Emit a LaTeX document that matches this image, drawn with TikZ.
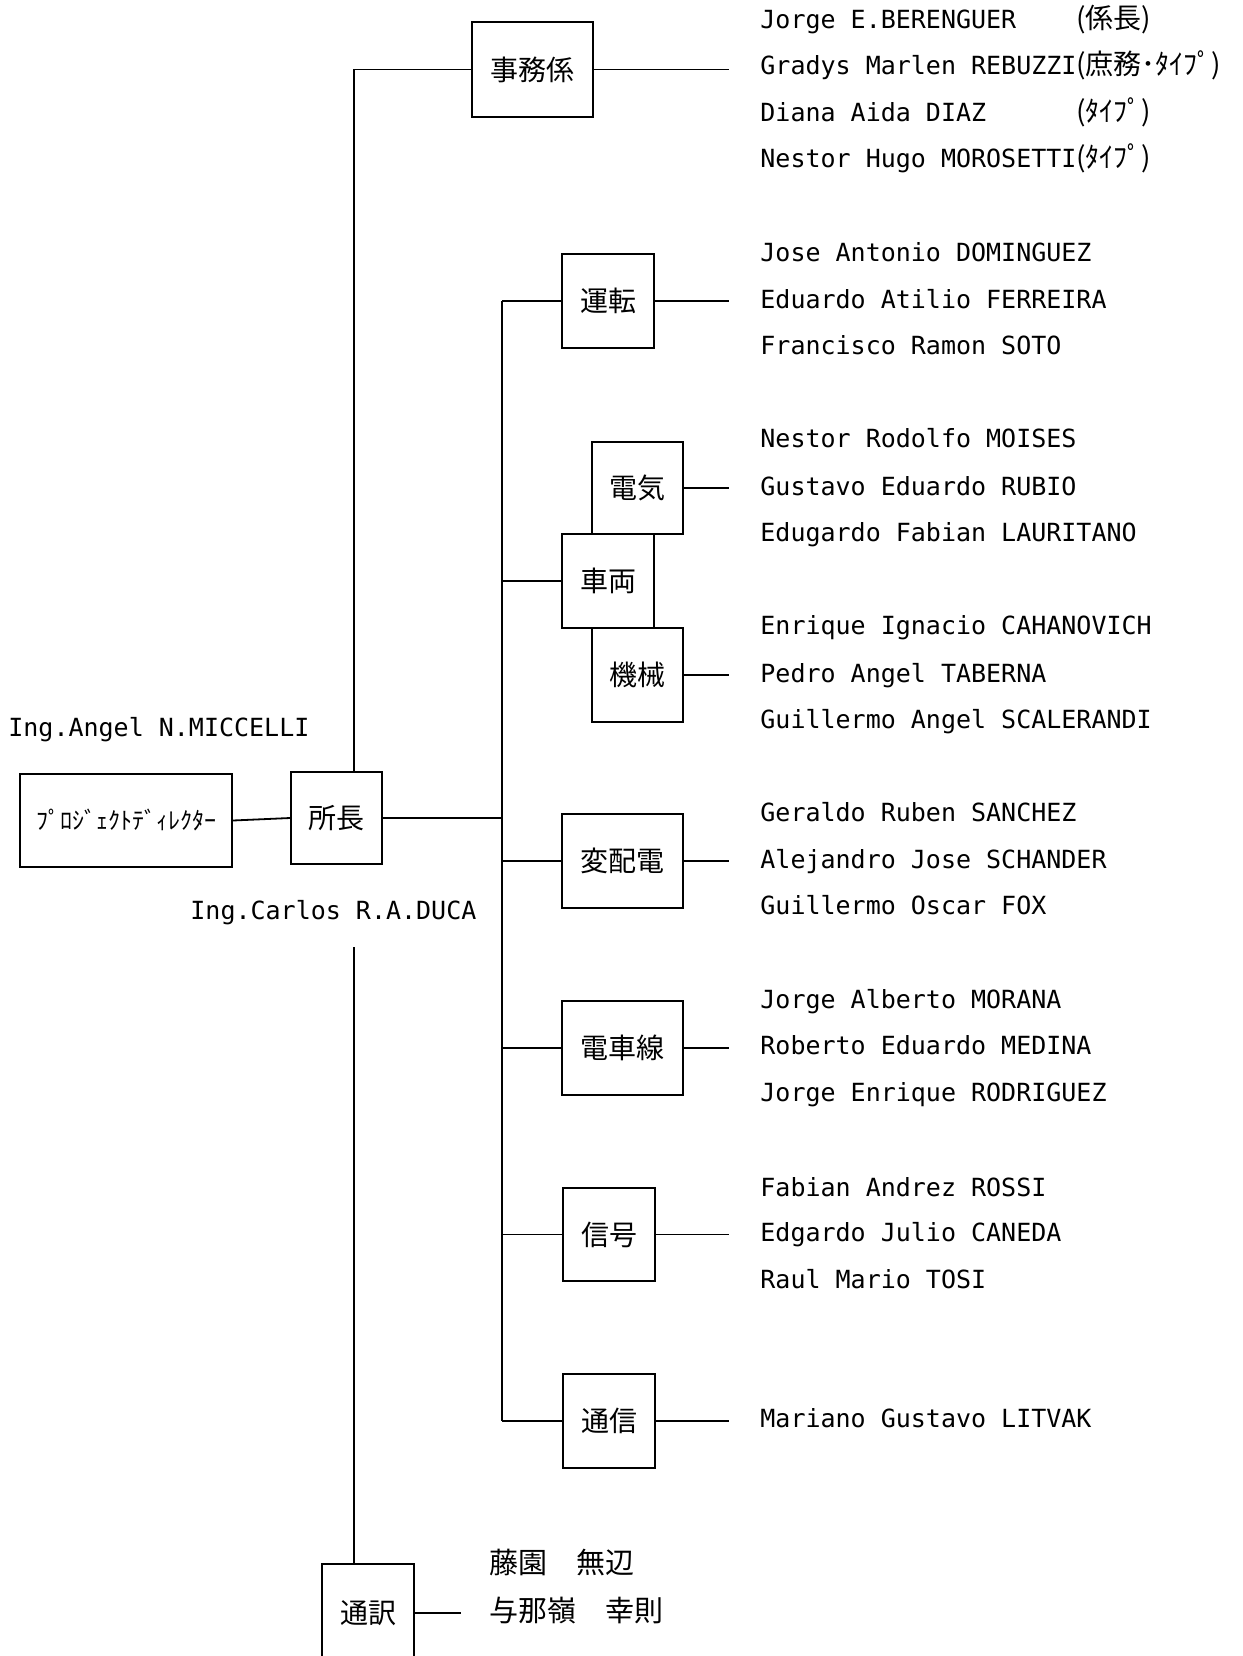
\documentclass[tikz,border=0pt]{standalone}
\usepackage{fontspec}
\newfontfamily\nmfont{DejaVu Sans Mono}
\newfontfamily\jpfont{Noto Sans CJK JP}
\usetikzlibrary{fit}
\newcommand\jpp[1]{{\jpfont\fontsize{14}{16}\selectfont #1}}
\begin{document}
\begin{tikzpicture}[x=0.5pt,y=-0.5pt,
  box/.style={draw, line width=0.9pt, inner sep=0pt},
  bl/.style={inner sep=0pt, font=\jpfont\fontsize{14}{16}\selectfont},
  nm/.style={anchor=west, inner sep=0pt, text height=9.1pt, text depth=0pt, font=\nmfont\fontsize{12.5}{14}\selectfont},
  jn/.style={anchor=west, inner sep=0pt, font=\jpfont\fontsize{14.5}{16}\selectfont},
  ln/.style={line width=0.9pt}]
\useasboundingbox (0,0) rectangle (1243,1656);
% boxes
\node[box, fit={(472,22) (593,117)}] (jimu) {};
\node[box, fit={(562,254) (654,348)}] (unten) {};
\node[box, fit={(592,442) (683,534)}] (denki) {};
\node[box, fit={(562,534) (654,628)}] (sharyo) {};
\node[box, fit={(592,628) (683,722)}] (kikai) {};
\node[box, fit={(562,814) (683,908)}] (henhai) {};
\node[box, fit={(562,1001) (683,1095)}] (densha) {};
\node[box, fit={(563,1188) (655,1281)}] (shingo) {};
\node[box, fit={(563,1374) (655,1468)}] (tsushin) {};
\node[box, fit={(291,772) (382,864)}] (shocho) {};
\node[box, fit={(20,774) (232,867)}] (pd) {};
\node[box, fit={(322,1564) (414,1662)}] (tsuyaku) {};
% box labels
\node[bl] (ljimu) at (jimu.center) {事務係};
\node[bl] (lunten) at (unten.center) {運転};
\node[bl] (ldenki) at (denki.center) {電気};
\node[bl] (lsharyo) at (sharyo.center) {車両};
\node[bl] (lkikai) at (kikai.center) {機械};
\node[bl] (lhenhai) at (henhai.center) {変配電};
\node[bl] (ldensha) at (densha.center) {電車線};
\node[bl] (lshingo) at (shingo.center) {信号};
\node[bl] (ltsushin) at (tsushin.center) {通信};
\node[bl] (lshocho) at (shocho.center) {所長};
\node[bl, font=\jpfont\fontsize{12}{14}\selectfont] (lpd) at (pd.center) {ﾌﾟﾛｼﾞｪｸﾄﾃﾞｨﾚｸﾀｰ};
\node[bl] (ltsuyaku) at (tsuyaku.center) {通訳};
% helper coordinates
\coordinate (mtop) at (354,72);
\coordinate (mlow) at (354,947);
\coordinate (btr) at (502,0);
\coordinate (rr) at (729,0);
\coordinate (tr) at (461,0);
% connectors
\draw[ln] (jimu.west) -- (mtop |- jimu.west) -- (mtop |- shocho.north);
\draw[ln] (mlow) -- (mlow |- tsuyaku.north);
\draw[ln] (pd.east) -- (shocho.west);
\draw[ln] (shocho.east) -- (shocho.east -| btr);
\draw[ln] (btr |- unten.west) -- (btr |- tsushin.west);
\foreach \n in {unten,sharyo,henhai,densha,shingo,tsushin}
  \draw[ln] (btr |- \n.west) -- (\n.west);
\foreach \n in {jimu,unten,denki,kikai,henhai,densha,shingo,tsushin}
  \draw[ln] (\n.east) -- (\n.east -| rr);
\draw[ln] (tsuyaku.east) -- (tsuyaku.east -| tr);
% people
\node[nm] (dir) at (8,727) {Ing.Angel N.MICCELLI};
\node[nm] (chief) at (190,910) {Ing.Carlos R.A.DUCA};
\node[nm] (j1) at (760,19) {\makebox[158pt][l]{Jorge E.BERENGUER}\jpp{(係長)}};
\node[nm] (j2) at (760,65) {\makebox[158pt][l]{Gradys Marlen REBUZZI}\jpp{(庶務･ﾀｲﾌﾟ)}};
\node[nm] (j3) at (760,112) {\makebox[158pt][l]{Diana Aida DIAZ}\jpp{(ﾀｲﾌﾟ)}};
\node[nm] (j4) at (760,158) {\makebox[158pt][l]{Nestor Hugo MOROSETTI}\jpp{(ﾀｲﾌﾟ)}};
\node[nm] (u1) at (760,252) {Jose Antonio DOMINGUEZ};
\node[nm] (u2) at (760,299) {Eduardo Atilio FERREIRA};
\node[nm] (u3) at (760,345) {Francisco Ramon SOTO};
\node[nm] (d1) at (760,438) {Nestor Rodolfo MOISES};
\node[nm] (d2) at (760,486) {Gustavo Eduardo RUBIO};
\node[nm] (d3) at (760,532) {Edugardo Fabian LAURITANO};
\node[nm] (k1) at (760,625) {Enrique Ignacio CAHANOVICH};
\node[nm] (k2) at (760,673) {Pedro Angel TABERNA};
\node[nm] (k3) at (760,719) {Guillermo Angel SCALERANDI};
\node[nm] (h1) at (760,812) {Geraldo Ruben SANCHEZ};
\node[nm] (h2) at (760,859) {Alejandro Jose SCHANDER};
\node[nm] (h3) at (760,905) {Guillermo Oscar FOX};
\node[nm] (e1) at (760,999) {Jorge Alberto MORANA};
\node[nm] (e2) at (760,1045) {Roberto Eduardo MEDINA};
\node[nm] (e3) at (760,1092) {Jorge Enrique RODRIGUEZ};
\node[nm] (s1) at (760,1187) {Fabian Andrez ROSSI};
\node[nm] (s2) at (760,1232) {Edgardo Julio CANEDA};
\node[nm] (s3) at (760,1279) {Raul Mario TOSI};
\node[nm] (t1) at (760,1418) {Mariano Gustavo LITVAK};
\node[jn] (y1) at (489,1563) {藤園　無辺};
\node[jn] (y2) at (489,1610) {与那嶺　幸則};
\end{tikzpicture}
\end{document}
